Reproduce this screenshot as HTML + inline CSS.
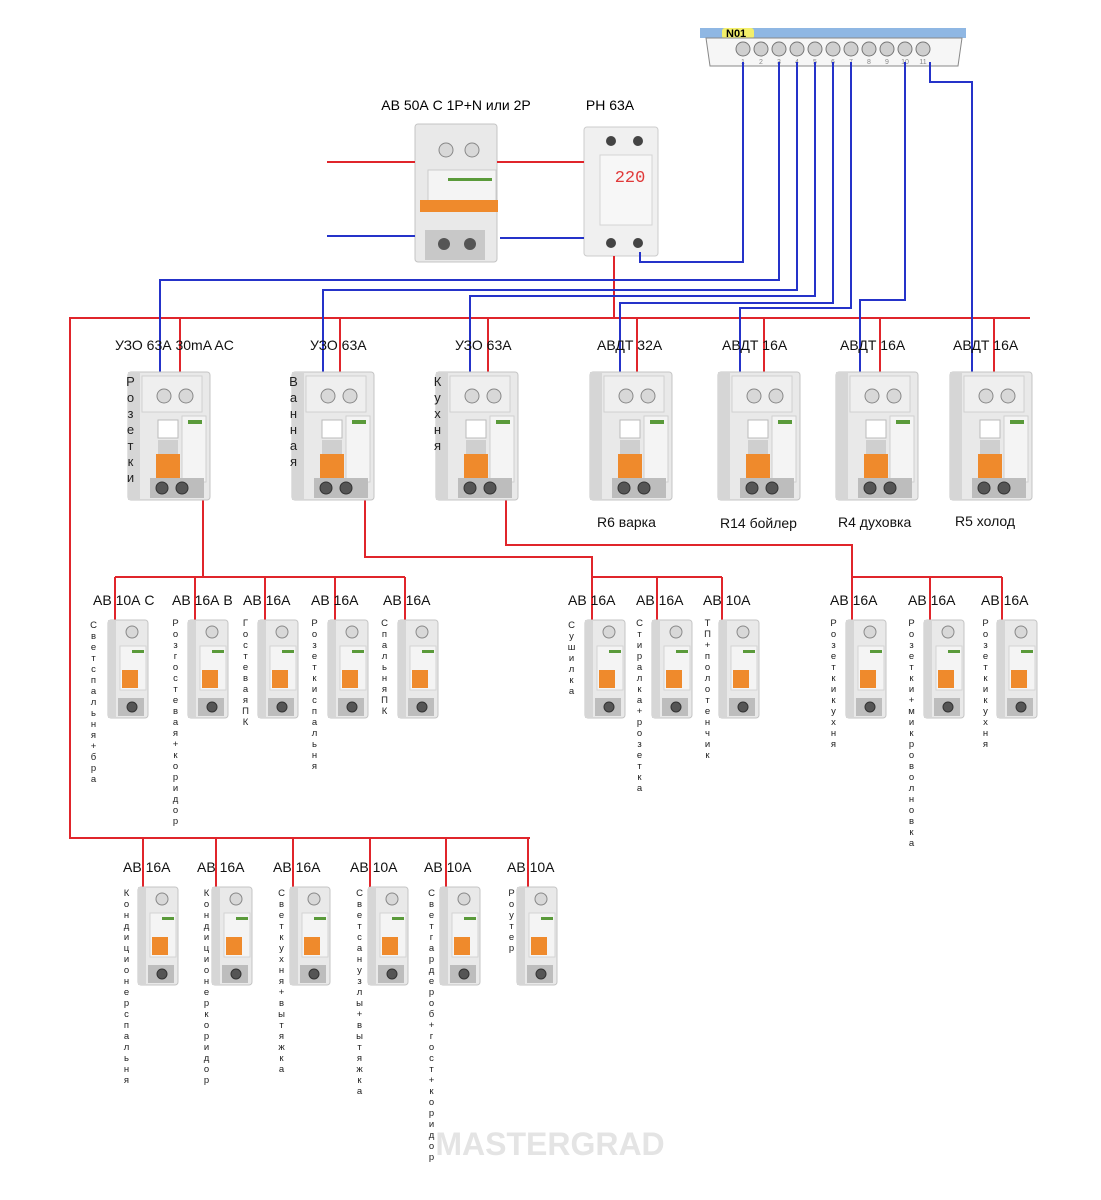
<!DOCTYPE html>
<html><head><meta charset="utf-8">
<style>
body{margin:0;background:#fff;width:1101px;height:1200px;position:relative;overflow:hidden;font-family:"Liberation Sans","DejaVu Sans",sans-serif}
svg{position:absolute;left:0;top:0}
.v{position:absolute;writing-mode:vertical-rl;text-orientation:upright;font-size:9.5px;line-height:11px;color:#222;white-space:nowrap;letter-spacing:0}
.vb{font-size:13px;line-height:13px;letter-spacing:1px}
</style></head><body>
<svg width="1101" height="1200" viewBox="0 0 1101 1200">
<defs>
<g id="rcd">
 <rect x="0" y="0" width="82" height="128" rx="3" fill="#e9e9e9" stroke="#c4c4c4"/>
 <rect x="0" y="0" width="12" height="128" fill="#d6d6d6"/>
 <rect x="14" y="4" width="60" height="36" fill="#efefef" stroke="#d0d0d0"/>
 <circle cx="36" cy="24" r="7" fill="#d8d8d8" stroke="#888"/>
 <circle cx="58" cy="24" r="7" fill="#d8d8d8" stroke="#888"/>
 <rect x="54" y="44" width="24" height="66" fill="#f4f4f4" stroke="#d0d0d0"/>
 <rect x="60" y="48" width="14" height="4" fill="#5a9a3a"/>
 <rect x="30" y="48" width="20" height="18" fill="#fff" stroke="#bbb"/>
 <rect x="30" y="68" width="20" height="14" fill="#cfcfcf"/>
 <rect x="28" y="82" width="24" height="30" fill="#ef8a2c"/>
 <rect x="22" y="106" width="54" height="20" fill="#bdbdbd"/>
 <circle cx="34" cy="116" r="6" fill="#555" stroke="#333"/>
 <circle cx="54" cy="116" r="6" fill="#555" stroke="#333"/>
</g>
<g id="cb">
 <rect x="0" y="0" width="40" height="98" rx="3" fill="#e9e9e9" stroke="#c4c4c4"/>
 <rect x="0" y="0" width="8" height="98" fill="#d6d6d6"/>
 <circle cx="24" cy="12" r="6" fill="#d8d8d8" stroke="#888"/>
 <rect x="12" y="26" width="26" height="44" fill="#f4f4f4" stroke="#d4d4d4"/>
 <rect x="24" y="30" width="12" height="3" fill="#5a9a3a"/>
 <rect x="14" y="50" width="16" height="18" fill="#ef8a2c"/>
 <rect x="10" y="78" width="26" height="18" fill="#bdbdbd"/>
 <circle cx="24" cy="87" r="5" fill="#555" stroke="#333"/>
</g>
</defs>

<rect x="700" y="28" width="266" height="10" fill="#8fb7e3"/>
<rect x="722" y="28" width="32" height="11" rx="3" fill="#f3ef6a"/>
<text x="726" y="37" font-size="11" font-weight="bold">N01</text>
<path d="M706 38 L962 38 L958 66 L710 66 Z" fill="#f6f6f6" stroke="#888"/>
<g fill="#cfcfcf" stroke="#777">
<circle cx="743" cy="49" r="7"/><circle cx="761" cy="49" r="7"/><circle cx="779" cy="49" r="7"/><circle cx="797" cy="49" r="7"/><circle cx="815" cy="49" r="7"/><circle cx="833" cy="49" r="7"/><circle cx="851" cy="49" r="7"/><circle cx="869" cy="49" r="7"/><circle cx="887" cy="49" r="7"/><circle cx="905" cy="49" r="7"/><circle cx="923" cy="49" r="7"/>
</g>
<g font-size="7" fill="#888" text-anchor="middle">
<text x="743" y="64">1</text><text x="761" y="64">2</text><text x="779" y="64">3</text><text x="797" y="64">4</text><text x="815" y="64">5</text><text x="833" y="64">6</text><text x="851" y="64">7</text><text x="869" y="64">8</text><text x="887" y="64">9</text><text x="905" y="64">10</text><text x="923" y="64">11</text>
</g>

<text x="456" y="110" font-size="14" text-anchor="middle">АВ 50А С 1Р+N или 2Р</text>
<rect x="415" y="124" width="82" height="138" rx="3" fill="#e9e9e9" stroke="#c4c4c4"/>
<circle cx="446" cy="150" r="7" fill="#d8d8d8" stroke="#888"/><circle cx="472" cy="150" r="7" fill="#d8d8d8" stroke="#888"/>
<rect x="428" y="170" width="68" height="40" fill="#f4f4f4" stroke="#ccc"/>
<rect x="448" y="178" width="44" height="3" fill="#5a9a3a"/>
<rect x="420" y="200" width="78" height="12" fill="#ef8a2c"/>
<rect x="425" y="230" width="60" height="30" fill="#c8c8c8"/>
<circle cx="444" cy="244" r="6" fill="#555"/><circle cx="470" cy="244" r="6" fill="#555"/>

<text x="610" y="110" font-size="14" text-anchor="middle">РН 63А</text>
<rect x="584" y="127" width="74" height="129" rx="3" fill="#f0f0f0" stroke="#ccc"/>
<rect x="600" y="155" width="52" height="70" fill="#f7f7f7" stroke="#d4d4d4"/>
<text x="630" y="182" font-size="17" fill="#e03a3a" text-anchor="middle" font-family="Liberation Mono">220</text>
<circle cx="611" cy="141" r="5" fill="#444"/><circle cx="638" cy="141" r="5" fill="#444"/>
<circle cx="611" cy="243" r="5" fill="#444"/><circle cx="638" cy="243" r="5" fill="#444"/>

<g stroke="#e0252b" stroke-width="2" fill="none">
<path d="M327 162 H415 M497 162 H584"/>
<path d="M614 256 V318"/>
<path d="M1030 318 H70 V838 H530"/>
<path d="M180 318 V375 M340 318 V375 M488 318 V375 M637 318 V375 M764 318 V375 M880 318 V375 M994 318 V375"/>
<path d="M203 500 V577 M115 577 H405 M115 577 V625 M195 577 V625 M265 577 V625 M335 577 V625 M405 577 V625"/>
<path d="M365 500 V557 H592 V625 M592 577 H722 M657 577 V625 M722 577 V625"/>
<path d="M506 500 V545 H852 V625 M852 577 H1002 M930 577 V625 M1002 577 V625"/>
<path d="M143 838 V890 M216 838 V890 M293 838 V890 M370 838 V890 M446 838 V890 M528 838 V890"/>
</g>
<g stroke="#2533c9" stroke-width="2" fill="none">
<path d="M327 236 H415 M500 238 H584"/>
<path d="M743 62 V262 H640 V252"/>
<path d="M779 62 V280 H160 V375"/>
<path d="M797 62 V290 H323 V375"/>
<path d="M815 62 V296 H470 V375"/>
<path d="M833 62 V303 H620 V375"/>
<path d="M851 62 V308 H740 V375"/>
<path d="M905 62 V300 H860 V375"/>
<path d="M930 62 V82 H972 V375"/>
</g>

<use href="#rcd" x="128" y="372"/><use href="#rcd" x="292" y="372"/><use href="#rcd" x="436" y="372"/>
<use href="#rcd" x="590" y="372"/><use href="#rcd" x="718" y="372"/><use href="#rcd" x="836" y="372"/><use href="#rcd" x="950" y="372"/>
<g font-size="14" fill="#111">
<text x="115" y="350">УЗО 63А 30mA AC</text>
<text x="310" y="350">УЗО 63А</text>
<text x="455" y="350">УЗО 63А</text>
<text x="597" y="350">АВДТ 32А</text>
<text x="722" y="350">АВДТ 16А</text>
<text x="840" y="350">АВДТ 16А</text>
<text x="953" y="350">АВДТ 16А</text>
<text x="597" y="527">R6 варка</text>
<text x="720" y="528">R14 бойлер</text>
<text x="838" y="527">R4 духовка</text>
<text x="955" y="526">R5 холод</text>
<text x="93" y="605">АВ 10А С</text>
<text x="172" y="605">АВ 16А В</text>
<text x="243" y="605">АВ 16А</text>
<text x="311" y="605">АВ 16А</text>
<text x="383" y="605">АВ 16А</text>
<text x="568" y="605">АВ 16А</text>
<text x="636" y="605">АВ 16А</text>
<text x="703" y="605">АВ 10А</text>
<text x="830" y="605">АВ 16А</text>
<text x="908" y="605">АВ 16А</text>
<text x="981" y="605">АВ 16А</text>
<text x="123" y="872">АВ 16А</text>
<text x="197" y="872">АВ 16А</text>
<text x="273" y="872">АВ 16А</text>
<text x="350" y="872">АВ 10А</text>
<text x="424" y="872">АВ 10А</text>
<text x="507" y="872">АВ 10А</text>
</g>

<use href="#cb" x="108" y="620"/><use href="#cb" x="188" y="620"/><use href="#cb" x="258" y="620"/><use href="#cb" x="328" y="620"/><use href="#cb" x="398" y="620"/>
<use href="#cb" x="585" y="620"/><use href="#cb" x="652" y="620"/><use href="#cb" x="719" y="620"/>
<use href="#cb" x="846" y="620"/><use href="#cb" x="924" y="620"/><use href="#cb" x="997" y="620"/>
<use href="#cb" x="138" y="887"/><use href="#cb" x="212" y="887"/><use href="#cb" x="290" y="887"/><use href="#cb" x="368" y="887"/><use href="#cb" x="440" y="887"/><use href="#cb" x="517" y="887"/>

<text x="550" y="1155" font-size="32" font-weight="bold" fill="#e4e4e4" text-anchor="middle">MASTERGRAD</text>
</svg>

<div class="v vb" style="left:124px;top:374px">Розетки</div>
<div class="v vb" style="left:287px;top:374px">Ванная</div>
<div class="v vb" style="left:431px;top:374px">Кухня</div>

<div class="v" style="left:88px;top:620px">Светспальня+бра</div>
<div class="v" style="left:170px;top:618px">Розгостевая+коридор</div>
<div class="v" style="left:240px;top:618px">ГостеваяПК</div>
<div class="v" style="left:309px;top:618px">Розеткиспальня</div>
<div class="v" style="left:379px;top:618px">СпальняПК</div>
<div class="v" style="left:566px;top:620px">Сушилка</div>
<div class="v" style="left:634px;top:618px">Стиралка+розетка</div>
<div class="v" style="left:702px;top:618px">ТП+полотенчик</div>
<div class="v" style="left:828px;top:618px">Розеткикухня</div>
<div class="v" style="left:906px;top:618px">Розетки+микроволновка</div>
<div class="v" style="left:980px;top:618px">Розеткикухня</div>

<div class="v" style="left:121px;top:888px">Кондиционерспальня</div>
<div class="v" style="left:201px;top:888px">Кондиционеркоридор</div>
<div class="v" style="left:276px;top:888px">Светкухня+вытяжка</div>
<div class="v" style="left:354px;top:888px">Светсанузлы+вытяжка</div>
<div class="v" style="left:426px;top:888px">Светгардероб+гост+коридор</div>
<div class="v" style="left:506px;top:888px">Роутер</div>
</body></html>
